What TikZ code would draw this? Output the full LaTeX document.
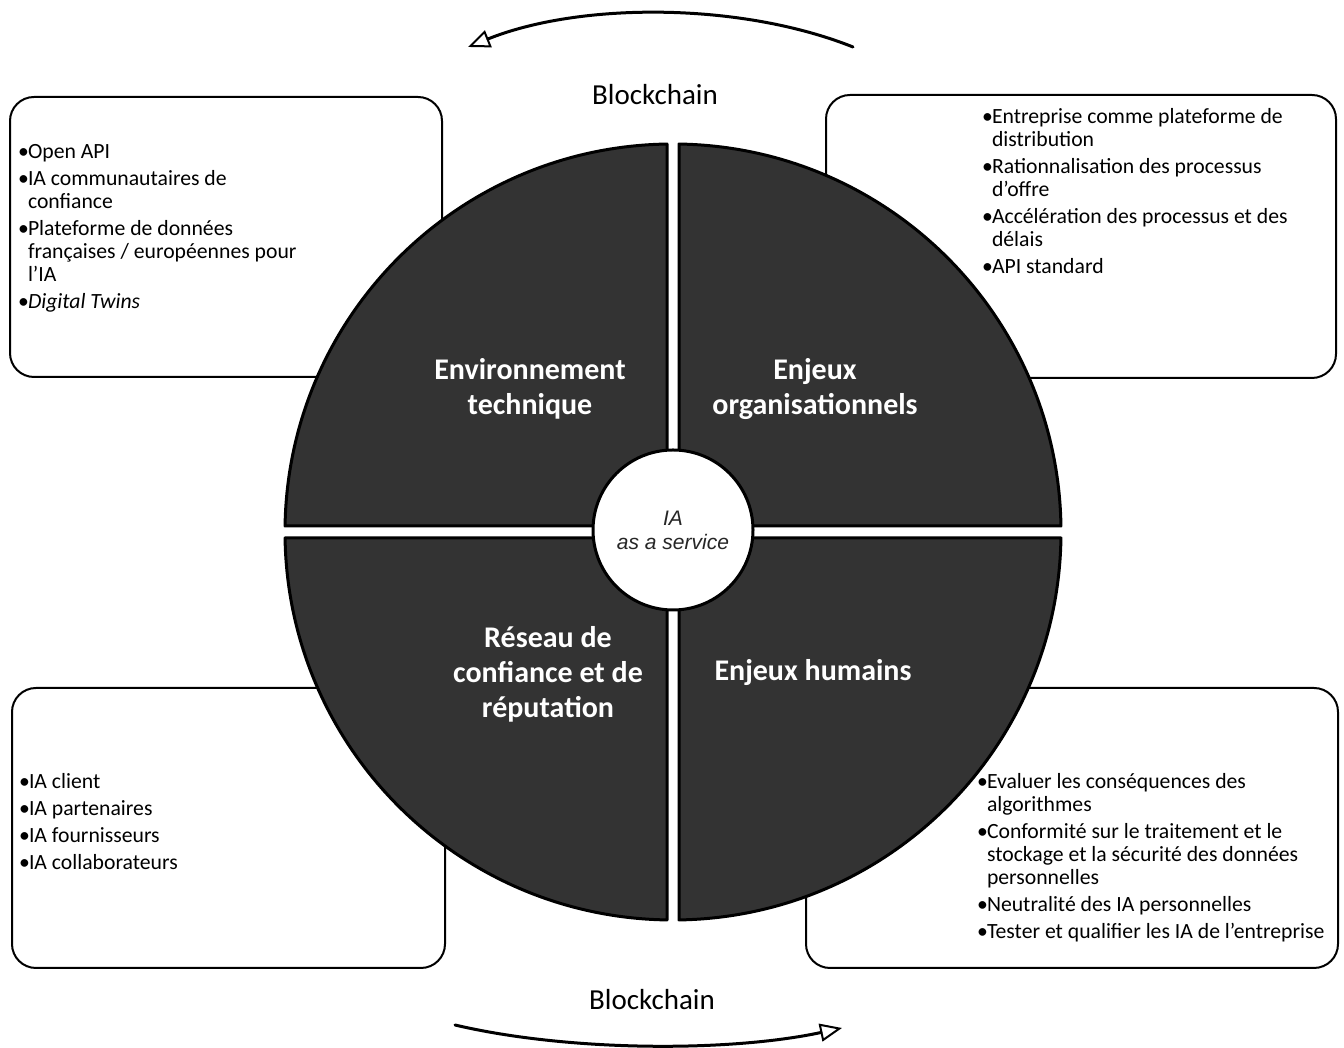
\documentclass[tikz,border=0pt]{standalone}
\usepackage{fontspec}
\setmainfont{Carlito}
\newfontfamily\arialf{Liberation Sans}
\usetikzlibrary{arrows.meta}
\begin{document}
\begin{tikzpicture}[x=1pt,y=1pt,
  box/.style={draw=black, line width=2pt, rounded corners=24pt, inner sep=0pt},
  quad/.style={fill=black!80, draw=black, line width=3pt, line join=round},
  qlabel/.style={text=white, font=\fontsize{30}{35}\selectfont\bfseries, align=center, inner sep=0pt},
  blist/.style={anchor=base west, inner sep=0pt, font=\fontsize{21.7}{23}\selectfont},
  chain/.style={font=\fontsize{29}{34}\selectfont, inner sep=0pt},
  curvarrow/.style={line width=3pt, line cap=round, -{Triangle[open, length=22pt, width=18pt, line width=2pt]}}
]
\fill[white] (0,0) rectangle (1344,1048);
\useasboundingbox (0,0) rectangle (1344,1048);

% text boxes
\node[box, minimum width=432pt, minimum height=280pt] (tlbox) at (226,811) {};
\node[box, minimum width=510pt, minimum height=283pt] (trbox) at (1081,811.5) {};
\node[box, minimum width=433pt, minimum height=280pt] (blbox) at (228.5,220) {};
\node[box, minimum width=532pt, minimum height=280pt] (brbox) at (1072,220) {};

% quadrants
\coordinate (c) at (673,516);
\path[quad] (679,522) -- (679,{516+387.95}) arc[start angle=89.114, end angle=0.886, radius=388] -- cycle;
\path[quad] (667,522) -- ({673-387.95},522) arc[start angle=179.114, end angle=90.886, radius=388] -- cycle;
\path[quad] (667,510) -- (667,{516-387.95}) arc[start angle=269.114, end angle=180.886, radius=388] -- cycle;
\path[quad] (679,510) -- ({673+387.95},510) arc[start angle=359.114, end angle=270.886, radius=388] -- cycle;

\node[circle, draw=black, line width=3pt, fill=white, minimum size=160pt, inner sep=0pt,
      align=center, text=black!85, font=\arialf\itshape\fontsize{21}{24}\selectfont] (core) at (673,518) {IA\\as a service};

\node[qlabel] (envt) at (530,659) {Environnement\\technique};
\node[qlabel] (orga) at (815,659) {Enjeux\\organisationnels};
\node[qlabel] (rese) at (548,374) {Réseau de\\confiance et de\\réputation};
\node[qlabel] (huma) at (813,375) {Enjeux humains};

% lists
\node[blist] (tltext) at (18,889) {\begin{tabular}[t]{@{}l@{\hspace{-1pt}}l@{}}
•&Open API\\[4pt]
•&IA communautaires de\\
&confiance\\[4pt]
•&Plateforme de données\\
&françaises / européennes pour\\
&l'IA\\[4pt]
•&\textit{Digital Twins}
\end{tabular}};

\node[blist] (trtext) at (982,924) {\begin{tabular}[t]{@{}l@{\hspace{-1pt}}l@{}}
•&Entreprise comme plateforme de\\
&distribution\\[4pt]
•&Rationnalisation des processus\\
&d'offre\\[4pt]
•&Accélération des processus et des\\
&délais\\[4pt]
•&API standard
\end{tabular}};

\node[blist] (bltext) at (19,259) {\begin{tabular}[t]{@{}l@{\hspace{-1pt}}l@{}}
•&IA client\\[4pt]
•&IA partenaires\\[4pt]
•&IA fournisseurs\\[4pt]
•&IA collaborateurs
\end{tabular}};

\node[blist] (brtext) at (977,259) {\begin{tabular}[t]{@{}l@{\hspace{-1pt}}l@{}}
•&Evaluer les conséquences des\\
&algorithmes\\[4pt]
•&Conformité sur le traitement et le\\
&stockage et la sécurité des données\\
&personnelles\\[4pt]
•&Neutralité des IA personnelles\\[4pt]
•&Tester et qualifier les IA de l'entreprise
\end{tabular}};

% blockchain labels and arrows
\node[chain] (bctop) at (655,953) {Blockchain};
\node[chain] (bcbot) at (652,48) {Blockchain};
\coordinate (ttail) at (853,1001);
\coordinate (thead) at (468,1001);
\draw[curvarrow] (ttail) .. controls (740,1046) and (580,1046) .. (thead);
\coordinate (btail) at (455,23);
\coordinate (bhead) at (842,20);
\draw[curvarrow] (btail) .. controls (570,-4) and (730,-4) .. (bhead);
\end{tikzpicture}
\end{document}
